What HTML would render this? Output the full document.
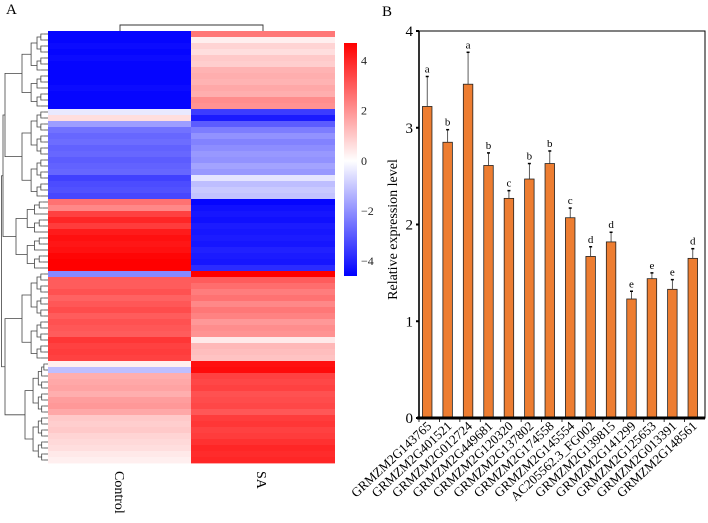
<!DOCTYPE html>
<html><head><meta charset="utf-8"><style>
body{margin:0;background:#fff;}
svg text{font-family:"Liberation Serif",serif;}
</style></head><body>
<svg id="fig" width="708" height="518" viewBox="0 0 708 518" xmlns="http://www.w3.org/2000/svg">
<text x="6" y="14" font-size="15">A</text>
<text x="382" y="16" font-size="15">B</text>
<g id="heat"></g>
<g id="dendro" stroke="#444" stroke-width="0.8" fill="none"></g>
<path d="M120,31 V25 H263 V31" stroke="#333" stroke-width="0.9" fill="none"/>
<text transform="translate(115,471) rotate(90)" font-size="14">Control</text>
<text transform="translate(257,471) rotate(90)" font-size="14">SA</text>
<g id="cbar"></g>
<g id="bars"></g>
</svg>
<script>
const NS='http://www.w3.org/2000/svg';
function mk(p,t,a){const e=document.createElementNS(NS,t);for(const k in a)e.setAttribute(k,a[k]);p.appendChild(e);return e;}
// ---- heatmap data ----
const controlValues=[-4.6,-4.6,-4.5,-4.6,-4.5,-4.6,-4.6,-4.6,-4.6,-4.5,-4.6,-4.6,-4.6,-0.4,0.6,-1.8,-2.6,-2.8,-2.7,-2.9,-2.8,-3.0,-2.9,-2.8,-3.5,-3.3,-3.2,-3.4,2.6,2.2,3.5,4.0,3.6,4.2,4.4,4.3,4.4,4.6,4.7,4.7,-2.2,3.0,3.0,3.2,2.9,3.1,3.3,3.0,3.2,3.1,3.0,3.7,3.5,3.6,3.5,0.3,-1.2,1.5,1.6,1.7,1.5,1.8,1.9,1.6,1.0,0.9,1.0,0.8,0.7,0.6,0.4,0.3];
const saValues=[2.5,0.3,0.8,0.6,1.0,0.9,1.4,1.5,1.4,1.6,1.5,2.1,2.0,-3.6,-4.2,-3.0,-2.4,-2.0,-2.3,-2.1,-1.9,-2.0,-1.7,-1.9,-0.5,-1.2,-1.0,-1.1,-4.6,-4.4,-4.3,-4.4,-4.2,-4.3,-4.2,-4.3,-4.1,-4.2,-4.3,-3.9,4.7,3.0,2.7,2.4,2.6,2.2,2.5,2.3,1.9,2.1,2.0,0.4,1.3,1.2,1.1,4.4,4.5,3.5,3.4,3.5,3.2,3.3,3.4,3.1,3.6,3.7,3.5,3.6,3.8,4.0,3.9,4.0];
const scaleTicks=[4,2,0,-2,-4];
const HX0=48,HXM=191,HX1=335,HY0=31,HY1=463,VMAX=4.7;
function col(v){const t=Math.max(-1,Math.min(1,v/VMAX));if(t>=0){const c=Math.round(255*(1-t));return `rgb(255,${c},${c})`;}const c=Math.round(255*(1+t));return `rgb(${c},${c},255)`;}
const heat=document.getElementById('heat');
const n=controlValues.length,rh=(HY1-HY0)/n;
for(let i=0;i<n;i++){
 let r=mk(heat,'rect',{x:HX0,y:HY0+i*rh,width:HXM-HX0,height:rh+0.4,fill:col(controlValues[i])});
 
 
 r=mk(heat,'rect',{x:HXM,y:HY0+i*rh,width:HX1-HXM,height:rh+0.4,fill:col(saValues[i])});
 
 
}
// ---- row dendrogram ----
const dg=document.getElementById('dendro');
function node(lo,hi,x){
 if(lo===hi){const y=HY0+(lo+0.5)*rh;mk(dg,'line',{x1:x,y1:y,x2:HX0,y2:y});return y;}
 const mid=Math.floor((lo+hi)/2);const cx=x+(HX0-x)*0.35;
 const y1=node(lo,mid,cx),y2=node(mid+1,hi,cx);
 mk(dg,'path',{d:`M${cx},${y1} H${x} V${y2} H${cx}`});
 return (y1+y2)/2;
}
function join(a,b,x){const ym=(a.y+b.y)/2;mk(dg,'path',{d:`M${a.x},${a.y} H${x} V${b.y} H${b.x}`});return {x:x,y:ym};}
function cl(lo,hi,x){const y=node(lo,hi,x);return {x:x,y:y};}
const A=cl(0,12,22),B=cl(13,27,22),C=cl(28,39,16),D=cl(40,54,22),E=cl(55,71,25);
const AB=join(A,B,5),ABC=join(AB,C,3),DE=join(D,E,5);join(ABC,DE,1.5);
// ---- colour bar ----
const cb=document.getElementById('cbar');
const CBX=344,CBW=13,CBY0=43,CBY1=276,cbMax=4.7,cbMin=-4.6;
function cbY(v){return CBY0+(cbMax-v)/(cbMax-cbMin)*(CBY1-CBY0);}
const defs=mk(cb,'defs',{});const lg=mk(defs,'linearGradient',{id:'cg',x1:0,y1:0,x2:0,y2:1});
mk(lg,'stop',{offset:0,'stop-color':'#ff0000'});mk(lg,'stop',{offset:(cbMax/(cbMax-cbMin)),'stop-color':'#ffffff'});mk(lg,'stop',{offset:1,'stop-color':'#0000ff'});
mk(cb,'rect',{x:CBX,y:CBY0,width:CBW,height:CBY1-CBY0,fill:'url(#cg)'});
scaleTicks.forEach(t=>{const tx=mk(cb,'text',{x:CBX+CBW+4,y:cbY(t)+4,'font-size':12,fill:'#222'});tx.textContent=t<0?'\u2212'+(-t):String(t);
 
 });
// ---- bar chart data ----
const genes=['GRMZM2G143765','GRMZM2G401521','GRMZM2G012724','GRMZM2G449681','GRMZM2G120320','GRMZM2G137802','GRMZM2G174558','GRMZM2G145554','AC205562.3_FG002','GRMZM2G139815','GRMZM2G141299','GRMZM2G125653','GRMZM2G013391','GRMZM2G148561'];
const means=[3.22,2.85,3.45,2.61,2.27,2.47,2.63,2.07,1.67,1.82,1.23,1.44,1.33,1.65];
const errs=[0.31,0.13,0.33,0.13,0.08,0.16,0.13,0.10,0.10,0.10,0.08,0.06,0.10,0.10];
const letters=['a','b','a','b','c','b','b','c','d','d','e','e','e','d'];
const yTicks=[0,1,2,3,4];
const bg=document.getElementById('bars');
const PX0=419,PX1=705,PY0=31,PY1=418,YMAX=4;
const yS=v=>PY1-v/YMAX*(PY1-PY0);
const step=(PX1-PX0)/genes.length;
const xC=i=>PX0+step*(i+0.5)-2;
mk(bg,'rect',{x:PX0,y:PY0,width:PX1-PX0,height:PY1-PY0,fill:'none',stroke:'#000','stroke-width':1});
mk(bg,'line',{x1:PX0,y1:PY0,x2:PX0,y2:PY1,stroke:'#000','stroke-width':1.6});
yTicks.forEach(t=>{mk(bg,'line',{x1:PX0-3,y1:yS(t),x2:PX0,y2:yS(t),stroke:'#000','stroke-width':2});
 const tx=mk(bg,'text',{x:PX0-6,y:yS(t)+5,'font-size':15,'text-anchor':'end'});tx.textContent=t;
 
 });
const yt=mk(bg,'text',{transform:`translate(397,${(PY0+PY1)/2+5}) rotate(-90)`,'font-size':14,'text-anchor':'middle'});yt.textContent='Relative expression level';


genes.forEach((g,i)=>{
 const cx=xC(i),bw=9.5,top=yS(means[i]),et=yS(means[i]+errs[i]);
 const b=mk(bg,'rect',{x:cx-bw/2,y:top,width:bw,height:PY1-top,fill:'#ed7d31',stroke:'#222','stroke-width':0.8});
 
 
 mk(bg,'line',{x1:cx,y1:top,x2:cx,y2:et,stroke:'#333','stroke-width':0.8});
 mk(bg,'line',{x1:cx-1.5,y1:et,x2:cx+1.5,y2:et,stroke:'#000','stroke-width':1.5});
 const lt=mk(bg,'text',{x:cx,y:et-4,'font-size':11,'text-anchor':'middle'});lt.textContent=letters[i];
 
 
 mk(bg,'line',{x1:PX0+step*i,y1:PY1,x2:PX0+step*i,y2:PY1+4,stroke:'#000','stroke-width':0.8});
 const xl=mk(bg,'text',{transform:`translate(${cx+5},${PY1+9}) rotate(-43)`,'font-size':13,'text-anchor':'end'});xl.textContent=g;
 
 
});
mk(bg,'line',{x1:PX0-2,y1:PY1,x2:PX1,y2:PY1,stroke:'#000','stroke-width':3});
</script>
</body></html>
